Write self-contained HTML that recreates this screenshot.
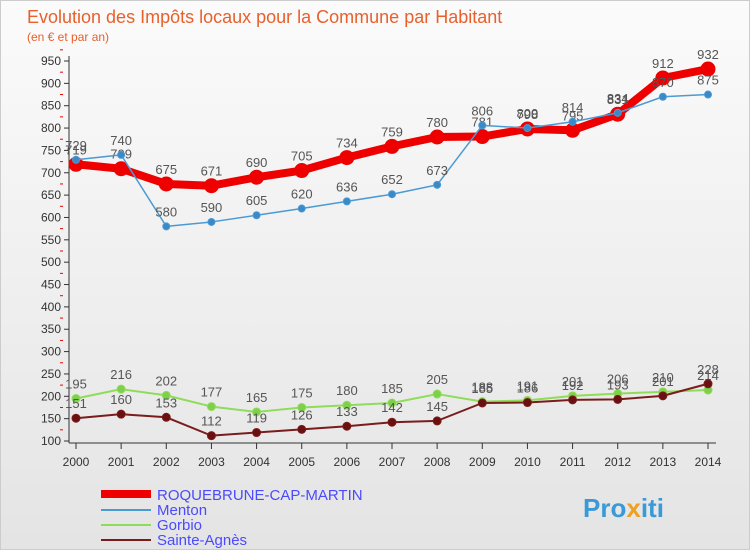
<!DOCTYPE html>
<html><head><meta charset="utf-8"><style>
body{margin:0;background:#fff;font-family:"Liberation Sans",sans-serif}
#c{position:relative;width:750px;height:550px;overflow:hidden;background:linear-gradient(#fbfbfb,#e4e4e4);border:1px solid #ccc;box-sizing:border-box}
</style></head><body>
<div id="c">
<svg id="s" width="750" height="550" style="position:absolute;left:0;top:0;font-family:'Liberation Sans',sans-serif">
<text x="26" y="22" font-size="18" fill="#e8602c">Evolution des Impôts locaux pour la Commune par Habitant</text>
<text x="26" y="40" font-size="12" fill="#e8602c">(en € et par an)</text>
<g id="axes"></g><g id="series"></g>
<g font-size="15" fill="#4a4aff">
<line x1="100" y1="493" x2="150" y2="493" stroke="#e00" stroke-width="8"/>
<text x="156" y="499">ROQUEBRUNE-CAP-MARTIN</text>
<line x1="100" y1="509" x2="150" y2="509" stroke="#4a9ad4" stroke-width="2"/>
<text x="156" y="514">Menton</text>
<line x1="100" y1="524" x2="150" y2="524" stroke="#8fdc5a" stroke-width="2"/>
<text x="156" y="529">Gorbio</text>
<line x1="100" y1="539" x2="150" y2="539" stroke="#7a1c1c" stroke-width="2"/>
<text x="156" y="544">Sainte-Agnès</text>
</g>
<text x="582" y="516" font-size="26" font-weight="bold" fill="#3a9ad8">Pro<tspan fill="#f0a020">x</tspan>iti</text>
</svg>
</div>
<script>
const years=[2000,2001,2002,2003,2004,2005,2006,2007,2008,2009,2010,2011,2012,2013,2014];
const yTicks=[100,150,200,250,300,350,400,450,500,550,600,650,700,750,800,850,900,950];
const roquebrune=[719,709,675,671,690,705,734,759,780,781,798,795,831,912,932];
const menton=[729,740,580,590,605,620,636,652,673,806,800,814,834,870,875];
const gorbio=[195,216,202,177,165,175,180,185,205,188,191,201,206,210,214];
const sainteAgnes=[151,160,153,112,119,126,133,142,145,185,186,192,193,201,228];
const NS="http://www.w3.org/2000/svg";
const X=i=>75+i*(707-75)/(years.length-1);
const Y=v=>440-(v-100)*380/850;
function mk(t,a,p){const e=document.createElementNS(NS,t);for(const k in a)e.setAttribute(k,a[k]);p.appendChild(e);return e;}
const ax=document.getElementById('axes'),sg=document.getElementById('series');
const yl=mk('line',{x1:68,y1:55,x2:68,y2:442,stroke:'#333'},ax);


yTicks.forEach(v=>{
 const t=mk('line',{x1:63,y1:Y(v),x2:68,y2:Y(v),stroke:'#333'},ax);
 
 
 const l=mk('text',{x:60,y:Y(v)+4,'text-anchor':'end','font-size':12,fill:'#333'},ax);
 
 
 l.textContent=v;
 const r=mk('line',{x1:59,y1:Y(v+25),x2:62,y2:Y(v+25),stroke:'#e00'},ax);
 
 
});
const xl=mk('line',{x1:68,y1:442,x2:715,y2:442,stroke:'#333'},ax);


years.forEach((y,i)=>{
 const t=mk('line',{x1:X(i),y1:442,x2:X(i),y2:448,stroke:'#333'},ax);
 
 
 const l=mk('text',{x:X(i),y:465,'text-anchor':'middle','font-size':12,fill:'#333'},ax);
 
 
 l.textContent=y;
});
function series(d,name,color,w,r,dot){
 const g=mk('g',{},sg);
 
 
 const p=mk('polyline',{points:d.map((v,i)=>X(i)+','+Y(v)).join(' '),fill:'none',stroke:color,'stroke-width':w,'stroke-linejoin':'round'},g);
 
 
 d.forEach((v,i)=>{
  const c=mk('circle',{cx:X(i),cy:Y(v),r:r,fill:dot,stroke:color,'stroke-width':1},g);
  
  
  const t=mk('text',{x:X(i),y:Y(v)-10,'text-anchor':'middle','font-size':13,fill:'#555'},g);
  
  
  t.textContent=v;
 });
}
series(gorbio,'gorbio','#8fdc5a',2,4,'#7ed04a');
series(sainteAgnes,'sainte-agnes','#7a1c1c',2,4,'#6a1010');
series(roquebrune,'roquebrune','#e00',8,7,'#e00');
series(menton,'menton','#4a9ad4',1.5,3.5,'#3a8ac8');
</script>
</body></html>
